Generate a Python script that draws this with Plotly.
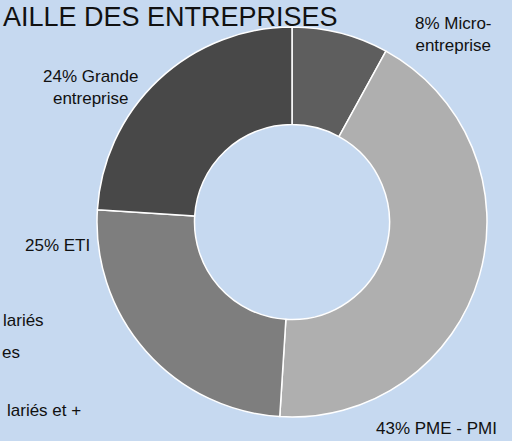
import plotly.graph_objects as go

categories = ["Micro-entreprise", "PME - PMI", "ETI", "Grande entreprise"]
percents = [8, 43, 25, 24]
colors = ["#5e5e5e", "#afafaf", "#7e7e7e", "#484848"]
title_text = "AILLE DES ENTREPRISES"
legend_fragments = ["lariés", "es", "lariés et +"]

W, H = 512, 441
font_family = "Liberation Sans Narrow, Arial Narrow, Liberation Sans, Arial"

fig = go.Figure()
fig.add_trace(go.Pie(
    labels=categories,
    values=percents,
    hole=0.5,
    sort=False,
    direction="clockwise",
    rotation=0,
    marker=dict(colors=colors, line=dict(color="white", width=1.5)),
    textinfo="none",
    hoverinfo="label+percent",
    showlegend=False,
    domain=dict(x=[96 / W, 488 / W], y=[(H - 417) / H, (H - 27) / H]),
))

def px(x):
    return x / W

def py(y):
    return 1 - y / H

label_pos = {
    "Micro-entreprise": (453, 34, "{p}% Micro-<br>entreprise"),
    "PME - PMI": (436, 428, "{p}% PME - PMI"),
    "ETI": (57, 245, "{p}% ETI"),
    "Grande entreprise": (90, 87, "{p}% Grande<br>entreprise"),
}
annotations = []
for cat, p in zip(categories, percents):
    x, y, tpl = label_pos[cat]
    annotations.append(dict(
        x=px(x), y=py(y), xref="paper", yref="paper",
        text=tpl.format(p=p), showarrow=False,
        xanchor="center", yanchor="middle", align="center",
        font=dict(family=font_family, size=17, color="#111111"),
    ))

# title (top edge)
annotations.append(dict(
    x=px(1), y=py(0), xref="paper", yref="paper",
    text=title_text, showarrow=False, xanchor="left", yanchor="top",
    font=dict(family=font_family, size=27, color="#111111"),
))

# legend fragments at the left edge
frag_pos = [(1, 320), (0, 352), (5, 410)]
for t, (x, y) in zip(legend_fragments, frag_pos):
    annotations.append(dict(
        x=px(x), y=py(y), xref="paper", yref="paper",
        text=t, showarrow=False, xanchor="left", yanchor="middle",
        font=dict(family=font_family, size=17, color="#111111"),
    ))

fig.update_layout(
    width=W, height=H,
    margin=dict(l=0, r=0, t=0, b=0),
    paper_bgcolor="#c6d9f0",
    plot_bgcolor="#c6d9f0",
    annotations=annotations,
)

fig.write_html("out.html", config={"displayModeBar": False},
               post_script="document.body.style.margin='0px';")
